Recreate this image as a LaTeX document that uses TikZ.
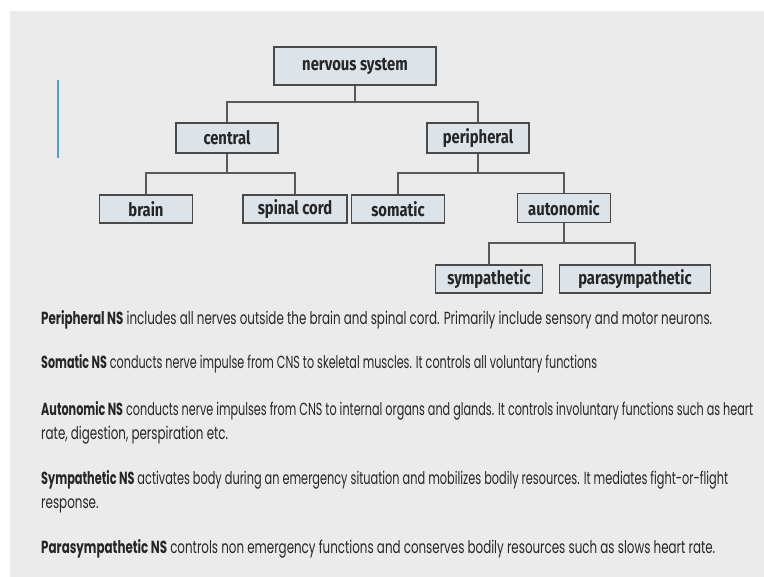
\documentclass[tikz,border=0pt]{standalone}
\usepackage{fontspec}
\usepackage{graphicx}
\setmainfont{Poppins}
\newfontfamily\boxfont{Fira Sans}[FakeStretch=0.8]
\usetikzlibrary{calc}
\definecolor{panel}{HTML}{EBEBEB}
\definecolor{boxfill}{HTML}{DCE3E9}
\definecolor{boxline}{HTML}{4A4A4A}
\definecolor{accent}{HTML}{4BA8C8}
\definecolor{desc}{HTML}{262626}
\newcommand{\fitline}[2]{\resizebox{#1}{\height}{#2}}
\newcommand{\narrowline}[1]{\scalebox{0.68}[1]{#1}}
\tikzset{
  nbox/.style={draw=boxline, line width=1.3pt, fill=boxfill, inner sep=0pt,
    font=\boxfont\bfseries\fontsize{18.5}{21}\selectfont, text=black!85},
  conn/.style={draw=black!65, line width=1.2pt},
  descline/.style={anchor=base west, inner sep=0pt, font=\fontsize{17.5}{20}\selectfont, text=desc}
}
\begin{document}
\begin{tikzpicture}[x=1pt,y=-1pt]
\useasboundingbox (0,0) rectangle (764,577);
\fill[white] (0,0) rectangle (764,577);
\fill[panel] (10,11) rectangle (764,577);
\draw[accent, line width=1.5pt] (58,80) -- (58,158);

\node[nbox, minimum width=162pt, minimum height=38pt] (ns) at (355,66) {nervous system};
\node[nbox, minimum width=102pt, minimum height=30pt] (cen) at (227,138) {central};
\node[nbox, minimum width=102pt, minimum height=30pt] (per) at (478,138) {peripheral};
\node[nbox, minimum width=93pt, minimum height=28pt] (brain) at (146,209) {brain};
\node[nbox, minimum width=104pt, minimum height=28pt] (spin) at (295,209) {spinal cord};
\node[nbox, minimum width=93pt, minimum height=28pt] (som) at (398,209) {somatic};
\node[nbox, minimum width=93pt, minimum height=29pt] (aut) at (564,208) {autonomic};
\node[nbox, minimum width=107pt, minimum height=28pt] (sym) at (489,279) {sympathetic};
\node[nbox, minimum width=151pt, minimum height=28pt] (para) at (635,279) {parasympathetic};

\coordinate (j1) at (355,102);
\coordinate (j2) at (227,173);
\coordinate (j3) at (478,173);
\coordinate (j4) at (564,243);
\draw[conn] (ns.south) -- (j1);
\draw[conn] (j1) -| (cen.north);
\draw[conn] (j1) -| (per.north);
\draw[conn] (cen.south) -- (j2);
\draw[conn] (j2) -| (brain.north);
\draw[conn] (j2) -| (spin.north);
\draw[conn] (per.south) -- (j3);
\draw[conn] (j3) -| (som.north);
\draw[conn] (j3) -| (aut.north);
\draw[conn] (aut.south) -- (j4);
\draw[conn] (j4) -| (sym.north);
\draw[conn] (j4) -| (para.north);

\node[descline] (d1) at (41,325) {\fitline{671pt}{\textbf{Peripheral NS} includes all nerves outside the brain and spinal cord. Primarily include sensory and motor neurons.}};
\node[descline] (d2) at (41,369) {\fitline{556pt}{\textbf{Somatic NS} conducts nerve impulse from CNS to skeletal muscles. It controls all voluntary functions}};
\node[descline] (d3) at (41,416) {\fitline{712pt}{\textbf{Autonomic NS} conducts nerve impulses from CNS to internal organs and glands. It controls involuntary functions such as heart}};
\node[descline] (d3b) at (41,440) {\narrowline{rate, digestion, perspiration etc.}};
\node[descline] (d4) at (41,485) {\fitline{687pt}{\textbf{Sympathetic NS} activates body during an emergency situation and mobilizes bodily resources. It mediates fight-or-flight}};
\node[descline] (d4b) at (41,509) {\narrowline{response.}};
\node[descline] (d5) at (41,554) {\fitline{674pt}{\textbf{Parasympathetic NS} controls non emergency functions and conserves bodily resources such as slows heart rate.}};
\end{tikzpicture}
\end{document}
